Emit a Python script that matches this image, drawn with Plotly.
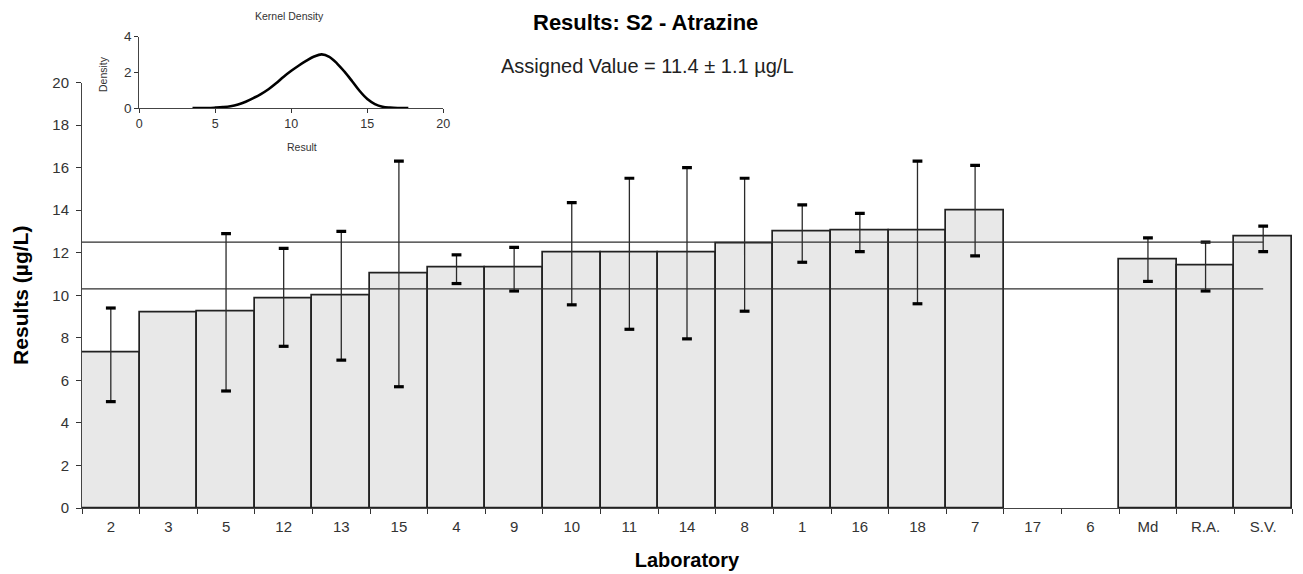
import plotly.graph_objects as go

# ---------------- data ----------------
labs = ["2", "3", "5", "12", "13", "15", "4", "9", "10", "11", "14", "8", "1",
        "16", "18", "7", "17", "6", "Md", "R.A.", "S.V."]
results = [7.3, 9.2, 9.25, 9.85, 10.0, 11.0, 11.3, 11.3, 12.0, 12.0, 12.0, 12.45,
           13.0, 13.05, 13.05, 14.0, None, None, 11.7, 11.4, 12.75]
upper = [9.4, None, 12.9, 12.2, 13.0, 16.3, 11.9, 12.25, 14.35, 15.5, 16.0, 15.5,
         14.25, 13.85, 16.3, 16.1, None, None, 12.7, 12.5, 13.25]
lower = [5.0, None, 5.5, 7.6, 6.95, 5.7, 10.55, 10.2, 9.55, 8.4, 7.95, 9.25,
         11.55, 12.05, 9.6, 11.85, None, None, 10.65, 10.2, 12.05]

assigned_value = 11.4
uncertainty = 1.1

kde_x = [3.5, 4.5, 5.0, 5.5, 6.0, 6.5, 7.0, 7.5, 8.0, 8.5, 9.0, 9.5, 10.0, 10.5,
         11.0, 11.5, 12.0, 12.5, 13.0, 13.5, 14.0, 14.5, 15.0, 15.5, 16.0, 16.5,
         17.0, 17.7]
kde_y = [0.0, 0.0, 0.02, 0.05, 0.1, 0.2, 0.35, 0.55, 0.78, 1.05, 1.38, 1.75, 2.08,
         2.38, 2.65, 2.88, 3.0, 2.86, 2.5, 2.03, 1.5, 0.95, 0.5, 0.22, 0.07, 0.02,
         0.0, 0.0]

# ---------------- layout helpers (pixel -> paper) ----------------
W, H = 1303, 574
ML, MR, MT, MB = 82, 11, 30, 66
PW = W - ML - MR
PH = H - MT - MB


def px(xp):
    return (xp - ML) / PW


def py(yp):
    return (H - MB - yp) / PH


FONT = "Arial, Liberation Sans, sans-serif"
DARK = "#333333"

fig = go.Figure()

# bars
fig.add_trace(go.Bar(
    x=labs, y=results,
    marker=dict(color="#e8e8e8", line=dict(color="#222222", width=1.7)),
    xaxis="x", yaxis="y", showlegend=False, hoverinfo="x+y",
))

# error stems
mid_err = [None if (u is None or l is None) else (u + l) / 2 for u, l in zip(upper, lower)]
fig.add_trace(go.Scatter(
    x=labs, y=mid_err, mode="markers",
    marker=dict(size=1, color="rgba(0,0,0,0)"),
    error_y=dict(type="data", symmetric=True,
                 array=[None if m is None else u - m for u, m in zip(upper, mid_err)],
                 width=0, thickness=1.3, color="#2a2a2a"),
    showlegend=False, hoverinfo="skip",
))

# caps
cap_x = labs + labs
cap_y = upper + lower
fig.add_trace(go.Scatter(
    x=cap_x, y=cap_y, mode="markers",
    marker=dict(symbol="line-ew-open", size=7, color="black",
                line=dict(color="black", width=3.2)),
    showlegend=False, hoverinfo="y",
))

# assigned value +/- uncertainty lines
for val in (assigned_value - uncertainty, assigned_value + uncertainty):
    fig.add_shape(type="line", xref="x", yref="y", x0=-0.5, x1=len(labs) - 1,
                  y0=val, y1=val, line=dict(color="#2e2e2e", width=1.2))

# kernel density inset
fig.add_trace(go.Scatter(
    x=kde_x, y=kde_y, mode="lines", line=dict(color="black", width=2.6, shape="spline"),
    xaxis="x2", yaxis="y2", showlegend=False, cliponaxis=False,
))

fig.update_layout(
    width=W, height=H,
    margin=dict(l=ML, r=MR, t=MT, b=MB, pad=0, autoexpand=False),
    paper_bgcolor="white", plot_bgcolor="rgba(0,0,0,0)",
    bargap=0,
    font=dict(family=FONT, color=DARK, size=15),
    xaxis=dict(
        type="category", domain=[0, 1], anchor="y", automargin=False,
        tickson="boundaries", ticks="outside", ticklen=5, tickcolor=DARK,
        ticklabelstandoff=5,
        showline=True, linecolor="#444", linewidth=1, showgrid=False,
        tickfont=dict(size=15, color=DARK),
        title=dict(text="<b>Laboratory</b>", font=dict(size=20, color="black"), standoff=18),
        range=[-0.5, len(labs) - 0.5], fixedrange=True,
    ),
    yaxis=dict(
        domain=[0, py(82.5)], anchor="x", range=[0, 20], dtick=2, automargin=False,
        ticks="outside", ticklen=5, tickcolor=DARK, ticklabelstandoff=4,
        showline=True, linecolor="#444", linewidth=1, showgrid=False, zeroline=False,
        tickfont=dict(size=15, color=DARK),
        title=dict(text="<b>Results (µg/L)</b>", font=dict(size=21, color="black"), standoff=17),
    ),
    xaxis2=dict(
        domain=[px(139.3), px(443.3)], anchor="y2", range=[0, 20], automargin=False,
        tickvals=[0, 5, 10, 15, 20], ticks="outside", ticklen=4, tickcolor=DARK,
        showline=True, linecolor="#444", linewidth=1, showgrid=False, zeroline=False,
        tickfont=dict(size=12.5, color=DARK),
    ),
    yaxis2=dict(
        domain=[py(108), py(36.5)], anchor="x2", range=[0, 4], automargin=False,
        tickvals=[0, 2, 4], ticks="outside", ticklen=4, tickcolor=DARK,
        showline=True, linecolor="#444", linewidth=1, showgrid=False, zeroline=False,
        tickfont=dict(size=13.5, color=DARK),
    ),
    annotations=[
        dict(text="<b>Results: S2 - Atrazine</b>", x=px(645), y=py(23), xref="paper", yref="paper",
             showarrow=False, font=dict(size=22, color="black"), xanchor="center", yanchor="middle"),
        dict(text="Assigned Value = 11.4 ± 1.1 µg/L", x=px(647), y=py(66), xref="paper", yref="paper",
             showarrow=False, font=dict(size=20, color="#222"), xanchor="center", yanchor="middle"),
        dict(text="Kernel Density", x=px(289), y=py(16), xref="paper", yref="paper",
             showarrow=False, font=dict(size=10.5, color=DARK), xanchor="center", yanchor="middle"),
        dict(text="Density", x=px(103), y=py(74), xref="paper", yref="paper", textangle=-90,
             showarrow=False, font=dict(size=10.5, color=DARK), xanchor="center", yanchor="middle"),
        dict(text="Result", x=px(302), y=py(147), xref="paper", yref="paper",
             showarrow=False, font=dict(size=10.5, color=DARK), xanchor="center", yanchor="middle"),
    ],
)

fig.write_html("out.html")
